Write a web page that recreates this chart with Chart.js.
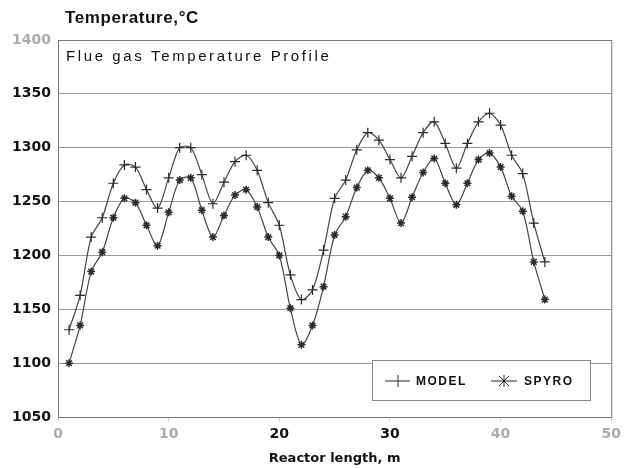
<!DOCTYPE html>
<html>
<head>
<meta charset="utf-8">
<script src="https://cdn.jsdelivr.net/npm/chart.js@4"></script>
<style>
  html, body { margin: 0; padding: 0; background: #fff; }
  #wrap { width: 626px; height: 468px; }
</style>
</head>
<body>
<div id="wrap"><canvas id="chart" width="626" height="468"></canvas></div>
<script>
// reactor length, m
const lengths = [1, 2, 3, 4, 5, 6, 7, 8, 9, 10, 11, 12, 13, 14, 15, 16, 17, 18, 19, 20, 21, 22,
  23, 24, 25, 26, 27, 28, 29, 30, 31, 32, 33, 34, 35, 36, 37, 38, 39, 40, 41, 42, 43, 44];
// flue gas temperature, C
const model = [1131, 1163, 1217, 1235, 1267, 1284, 1282, 1261, 1244, 1272, 1300, 1300, 1275, 1248,
  1268, 1287, 1293, 1279, 1249, 1228, 1182, 1159, 1168, 1205, 1253, 1270, 1298, 1314, 1307, 1289,
  1272, 1292, 1314, 1324, 1304, 1281, 1304, 1324, 1332, 1321, 1293, 1276, 1230, 1194];
const spyro = [1100, 1135, 1185, 1203, 1235, 1253, 1249, 1228, 1209, 1240, 1270, 1272, 1242, 1217,
  1237, 1256, 1261, 1245, 1217, 1200, 1151, 1117, 1135, 1171, 1219, 1236, 1263, 1279, 1272, 1253,
  1230, 1254, 1277, 1290, 1267, 1247, 1267, 1289, 1295, 1282, 1255, 1241, 1194, 1159];
const seriesNames = ["MODEL", "SPYRO"];
const xTicks = [0, 10, 20, 30, 40, 50];
const yTicks = [1050, 1100, 1150, 1200, 1250, 1300, 1350, 1400];

const ink = "#2a2a2a";

function pts(ys) {
  return lengths.map((x, i) => ({ x: x, y: ys[i] }));
}

// extra text and the legend box drawn straight on the canvas
const decor = {
  id: "decor",
  afterDraw(chart) {
    const ctx = chart.ctx;
    const a = chart.chartArea;
    ctx.save();
    // frame
    ctx.strokeStyle = "#777";
    ctx.lineWidth = 1;
    ctx.strokeRect(a.left + 0.5, a.top + 0.5, a.right - a.left, a.bottom - a.top);

    ctx.fillStyle = "#111";
    ctx.textBaseline = "middle";
    ctx.letterSpacing = "0.6px";
    ctx.font = "bold 17px 'Liberation Sans', Arial, sans-serif";
    ctx.fillText("Temperature,°C", 65, 18);

    ctx.letterSpacing = "2.6px";
    ctx.font = "15px 'Liberation Sans', Arial, sans-serif";
    ctx.fillText("Flue gas Temperature Profile", 66, 57);

    // legend
    const bx = 372, by = 360, bw = 218, bh = 40;
    ctx.fillStyle = "#fff";
    ctx.fillRect(bx, by, bw, bh);
    ctx.strokeStyle = "#888";
    ctx.strokeRect(bx + 0.5, by + 0.5, bw, bh);
    const cy = by + 21;
    ctx.strokeStyle = ink;
    ctx.lineWidth = 1;
    // MODEL symbol
    ctx.beginPath();
    ctx.moveTo(385, cy); ctx.lineTo(410, cy);
    ctx.moveTo(398, cy - 6); ctx.lineTo(398, cy + 6);
    ctx.stroke();
    // SPYRO symbol
    ctx.beginPath();
    ctx.moveTo(491, cy); ctx.lineTo(517, cy);
    ctx.moveTo(504, cy - 6); ctx.lineTo(504, cy + 6);
    ctx.moveTo(499, cy - 5); ctx.lineTo(509, cy + 5);
    ctx.moveTo(509, cy - 5); ctx.lineTo(499, cy + 5);
    ctx.stroke();
    ctx.fillStyle = "#111";
    ctx.letterSpacing = "1.5px";
    ctx.font = "bold 12px 'Liberation Sans', Arial, sans-serif";
    ctx.fillText(seriesNames[0], 416, cy + 1);
    ctx.fillText(seriesNames[1], 524, cy + 1);
    ctx.restore();
  }
};

new Chart(document.getElementById("chart"), {
  type: "line",
  data: {
    datasets: [
      {
        label: seriesNames[0],
        data: pts(model),
        borderColor: "#444",
        borderWidth: 1.2,
        tension: 0.3,
        pointStyle: "cross",
        pointRadius: 5,
        pointBorderColor: ink,
        pointBorderWidth: 1.2
      },
      {
        label: seriesNames[1],
        data: pts(spyro),
        borderColor: "#444",
        borderWidth: 1.2,
        tension: 0.3,
        pointStyle: "star",
        pointRadius: 4,
        pointBorderColor: ink,
        pointBorderWidth: 1.5
      }
    ]
  },
  options: {
    responsive: false,
    animation: false,
    events: [],
    layout: { padding: { top: 40, right: 14, left: 0, bottom: 0 } },
    plugins: {
      legend: { display: false },
      tooltip: { enabled: false }
    },
    scales: {
      x: {
        type: "linear",
        min: 0,
        max: 50,
        afterBuildTicks: s => { s.ticks = xTicks.map(v => ({ value: v })); },
        afterFit: s => { s.height = 51; },
        grid: { display: true, drawOnChartArea: false, tickLength: 4, color: "#ccc" },
        border: { color: "#777" },
        ticks: {
          padding: 5,
          callback: v => String(v),
          font: { family: "'DejaVu Sans', sans-serif", weight: "bold", size: 14 },
          color: c => (c.tick.value === 20 || c.tick.value === 30) ? "#111" : "#aaa"
        },
        title: {
          display: true,
          text: "Reactor length, m",
          font: { family: "'DejaVu Sans', sans-serif", weight: "bold", size: 13 },
          color: "#111",
          padding: { top: 0, bottom: 2 }
        }
      },
      y: {
        min: 1050,
        max: 1400,
        afterBuildTicks: s => { s.ticks = yTicks.map(v => ({ value: v })); },
        afterFit: s => { s.width = 58; },
        grid: { color: "#999", lineWidth: 1, drawTicks: false },
        border: { color: "#777" },
        ticks: {
          padding: 7,
          callback: v => String(v),
          font: { family: "'DejaVu Sans', sans-serif", weight: "bold", size: 14 },
          color: c => c.tick.value === 1400 ? "#aaa" : "#111"
        }
      }
    }
  },
  plugins: [decor]
});
</script>
</body>
</html>
